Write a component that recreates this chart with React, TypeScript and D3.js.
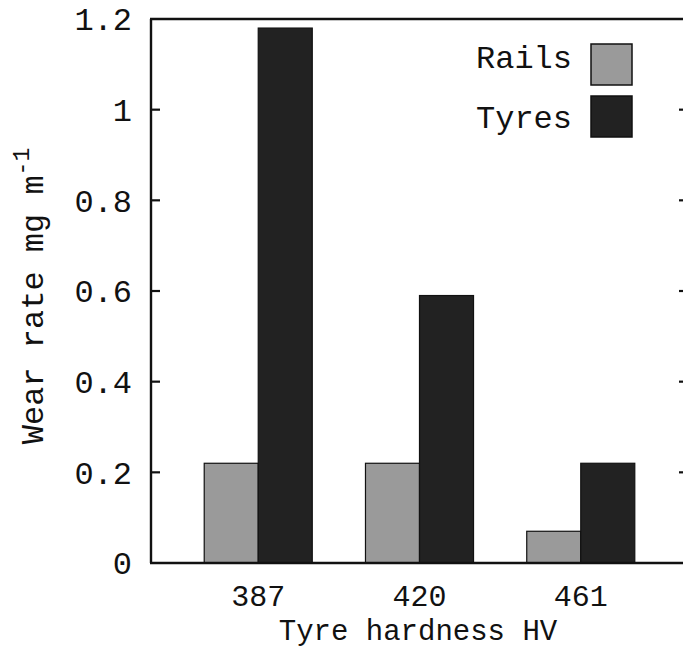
import React from "react";
import * as d3 from "d3";

const categories = ["387", "420", "461"];
const seriesNames = ["Rails", "Tyres"];
const railsValues = [0.22, 0.22, 0.07];
const tyresValues = [1.18, 0.59, 0.22];
const yTicks = [0, 0.2, 0.4, 0.6, 0.8, 1, 1.2];
const seriesColors = ["#9a9a9a", "#222222"];

const W = 683;
const H = 648;
const FONT = "'Liberation Mono', 'Courier New', monospace";

export default function App() {
  const left = 151;
  const right = 688;
  const top = 19;
  const bottom = 563;

  const y = d3.scaleLinear().domain([0, 1.2]).range([bottom, top]);
  const x0 = d3
    .scaleBand<string>()
    .domain(categories)
    .range([left, right])
    .paddingInner(0.33)
    .paddingOuter(0.33);
  const x1 = d3
    .scaleBand<string>()
    .domain(seriesNames)
    .range([0, x0.bandwidth()]);

  const values = [railsValues, tyresValues];
  const tickLen = 9;

  return (
    <svg
      width={W}
      height={H}
      style={{ position: "absolute", left: 0, top: 0, background: "#fff" }}
      fontFamily={FONT}
    >
      <rect x={0} y={0} width={W} height={H} fill="#fff" />
      {/* bars */}
      {categories.map((c, i) =>
        seriesNames.map((s, j) => {
          const v = values[j][i];
          const bx = (x0(c) ?? 0) + (x1(s) ?? 0);
          return (
            <rect
              key={c + s}
              x={bx}
              y={y(v)}
              width={x1.bandwidth()}
              height={y(0) - y(v)}
              fill={seriesColors[j]}
              stroke="#111"
              strokeWidth={1.2}
            />
          );
        })
      )}
      {/* frame */}
      <line x1={left} x2={left} y1={top} y2={bottom} stroke="#111" strokeWidth={2.4} />
      <line x1={right} x2={right} y1={top} y2={bottom} stroke="#111" strokeWidth={2.4} />
      <line x1={left - 1} x2={right} y1={top} y2={top} stroke="#111" strokeWidth={2.4} />
      <line x1={left - 1} x2={right} y1={bottom} y2={bottom} stroke="#111" strokeWidth={2.4} />
      {/* y ticks */}
      {yTicks.map((t) => (
        <g key={t}>
          {t > 0 && t < 1.2 && (
            <>
              <line x1={left} x2={left + tickLen} y1={y(t)} y2={y(t)} stroke="#111" strokeWidth={2.2} />
              <line x1={right} x2={right - tickLen} y1={y(t)} y2={y(t)} stroke="#111" strokeWidth={2.2} />
            </>
          )}
          <text
            x={132}
            y={y(t)}
            dy="0.35em"
            textAnchor="end"
            fontSize={32}
            fill="#111"
          >
            {String(t)}
          </text>
        </g>
      ))}
      {/* x tick labels */}
      {categories.map((c) => (
        <text
          key={c}
          x={(x0(c) ?? 0) + x0.bandwidth() / 2}
          y={606}
          textAnchor="middle"
          fontSize={30}
          fill="#111"
        >
          {c}
        </text>
      ))}
      {/* x axis title */}
      <text x={418} y={640} textAnchor="middle" fontSize={29} fill="#111">
        Tyre hardness HV
      </text>
      {/* y axis title */}
      <text
        transform={`translate(43, 296) rotate(-90)`}
        textAnchor="middle"
        fontSize={32}
        fill="#111"
      >
        Wear rate mg m
        <tspan fontSize={23} dy={-14}>
          -1
        </tspan>
      </text>
      {/* legend */}
      {seriesNames.map((s, j) => (
        <g key={s}>
          <text x={572} y={68 + j * 60} textAnchor="end" fontSize={32} fill="#111">
            {s}
          </text>
          <rect
            x={591}
            y={44 + j * 52}
            width={41}
            height={41}
            fill={seriesColors[j]}
            stroke="#111"
            strokeWidth={1.5}
          />
        </g>
      ))}
    </svg>
  );
}
